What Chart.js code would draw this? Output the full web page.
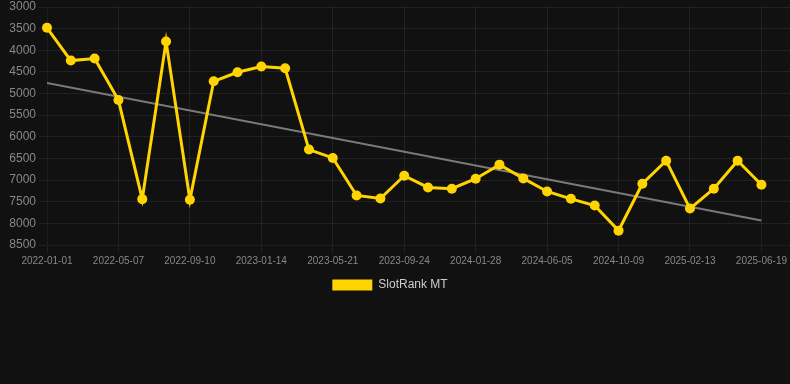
<!DOCTYPE html>
<html>
<head>
<meta charset="utf-8">
<script src="https://cdn.jsdelivr.net/npm/chart.js@4/dist/chart.umd.min.js"></script>
<style>
  body { margin: 0; background: #111111; }
  #wrap { width: 790px; height: 301px; }
</style>
</head>
<body>
<div id="wrap"><canvas id="myChart"></canvas></div>
<script>
var dates = [
  '2022-01-01','2022-02-12','2022-03-26','2022-05-07','2022-06-18','2022-07-30',
  '2022-09-10','2022-10-22','2022-12-03','2023-01-14','2023-02-25','2023-04-08',
  '2023-05-21','2023-07-02','2023-08-13','2023-09-24','2023-11-05','2023-12-17',
  '2024-01-28','2024-03-10','2024-04-21','2024-06-05','2024-07-17','2024-08-28',
  '2024-10-09','2024-11-20','2025-01-01','2025-02-13','2025-03-27','2025-05-08',
  '2025-06-19'
];
var rankValues = [
  3480, 4238, 4191, 5151, 7440, 3797, 7456, 4717, 4508, 4377, 4416, 6295,
  6488, 7355, 7425, 6899, 7170, 7200, 6968, 6643, 6961, 7263, 7433, 7588,
  8168, 7085, 6551, 7658, 7200, 6551, 7108
];
var trendStart = 4757;
var trendEnd = 7936;

var yellow = '#FFD400';
var points = rankValues.map(function(v, i) { return {x: i, y: v}; });
var trend = [{x: 0, y: trendStart}, {x: dates.length - 1, y: trendEnd}];

// nudge the legend a little to the left, like the original
var legendShift = {
  id: 'legendShift',
  afterLayout: function(chart) {
    chart.legend.left -= 5;
    chart.legend.right -= 5;
  }
};

var ctx = document.getElementById('myChart').getContext('2d');
var chart = new Chart(ctx, {
  type: 'line',
  data: {
    datasets: [{
      label: 'SlotRank MT',
      data: points,
      borderColor: yellow,
      backgroundColor: yellow,
      borderWidth: 3,
      pointRadius: 5,
      pointHoverRadius: 5,
      pointBackgroundColor: yellow,
      pointBorderWidth: 0,
      tension: 0,
      clip: false
    },
    {
      label: 'trend',
      data: trend,
      borderColor: 'rgba(140,140,140,0.85)',
      borderWidth: 2,
      pointRadius: 0,
      fill: false
    }]
  },
  plugins: [legendShift],
  options: {
    responsive: true,
    maintainAspectRatio: false,
    animation: false,
    layout: { autoPadding: false },
    plugins: {
      legend: {
        position: 'bottom',
        labels: {
          color: '#cccccc',
          font: { size: 12, family: 'Arial, Liberation Sans, sans-serif' },
          boxWidth: 40,
          boxHeight: 11,
          generateLabels: function(c) {
            var items = Chart.defaults.plugins.legend.labels.generateLabels(c);
            return items.filter(function(item) { return item.text !== 'trend'; })
              .map(function(item) { item.lineWidth = 0; return item; });
          }
        }
      },
      tooltip: { enabled: false }
    },
    scales: {
      x: {
        type: 'linear',
        min: 0,
        max: 31.2,
        grid: { color: 'rgba(255,255,255,0.07)' },
        afterFit: function(scale) { scale.paddingRight = 0; },
        ticks: {
          stepSize: 3,
          padding: 2,
          includeBounds: false,
          autoSkip: false,
          maxRotation: 0,
          color: '#888888',
          font: { size: 10, family: 'Arial, Liberation Sans, sans-serif' },
          callback: function(value) { return dates[value] || ''; }
        }
      },
      y: {
        reverse: true,
        min: 3000,
        max: 8500,
        grid: { color: 'rgba(255,255,255,0.07)' },
        afterFit: function(scale) { scale.width = 47; scale.paddingTop = 7; },
        ticks: {
          stepSize: 500,
          color: '#888888',
          font: { size: 12, family: 'Arial, Liberation Sans, sans-serif' },
          callback: function(value) { return String(value); }
        }
      }
    }
  }
});
</script>
</body>
</html>
